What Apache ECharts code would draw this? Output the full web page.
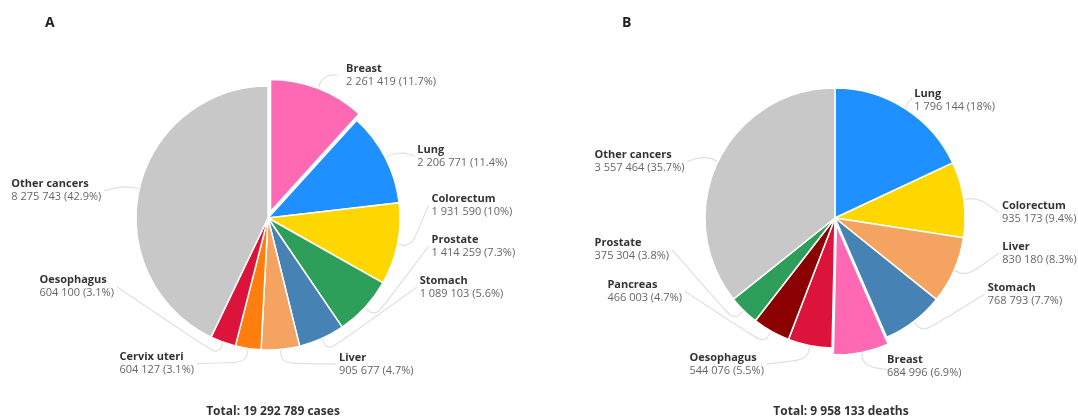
<!DOCTYPE html>
<html>
<head>
<meta charset="utf-8">
<script src="https://cdn.jsdelivr.net/npm/echarts@6/dist/echarts.min.js"></script>
<style>
  html, body { margin: 0; padding: 0; background: #fff; }
  #chart { width: 1078px; height: 418px; }
</style>
</head>
<body>
<div id="chart"></div>
<script>
// Panel A: new cases
const casesNames = ['Breast', 'Lung', 'Colorectum', 'Prostate', 'Stomach', 'Liver', 'Cervix uteri', 'Oesophagus', 'Other cancers'];
const casesValues = [2261419, 2206771, 1931590, 1414259, 1089103, 905677, 604127, 604100, 8275743];
const casesPct = ['11.7%', '11.4%', '10%', '7.3%', '5.6%', '4.7%', '3.1%', '3.1%', '42.9%'];
const casesColors = ['#ff69b4', '#1e90ff', '#ffd700', '#2e9e5b', '#4682b4', '#f4a460', '#ff7f0e', '#dc143c', '#c8c8c8'];
const casesTotal = 'Total: 19 292 789 cases';

// Panel B: deaths
const deathsNames = ['Lung', 'Colorectum', 'Liver', 'Stomach', 'Breast', 'Oesophagus', 'Pancreas', 'Prostate', 'Other cancers'];
const deathsValues = [1796144, 935173, 830180, 768793, 684996, 544076, 466003, 375304, 3557464];
const deathsPct = ['18%', '9.4%', '8.3%', '7.7%', '6.9%', '5.5%', '4.7%', '3.8%', '35.7%'];
const deathsColors = ['#1e90ff', '#ffd700', '#f4a460', '#4682b4', '#ff69b4', '#dc143c', '#8b0000', '#2e9e5b', '#c8c8c8'];
const deathsTotal = 'Total: 9 958 133 deaths';

// label placement (angle in degrees clockwise from 12 o'clock, distance from centre)
const casesLabelPos = [[26, 152], [67, 159], [85.5, 161], [100, 163], [115, 164], [155, 161], [206, 162], [245.5, 166], [279.5, 166]];
const deathsLabelPos = [[33, 140], [88, 164], [102, 168], [117, 168], [155, 163], [205, 161], [244, 167], [259, 166], [291, 158]];

const FONT = '"Open Sans", "Noto Sans", sans-serif';
const pies = [
  { center: [268, 218], radius: 132 },
  { center: [835, 218], radius: 130 }
];

function fmt(n) {
  return String(n).replace(/\B(?=(\d{3})+(?!\d))/g, ' ');
}

function buildData(names, values, pct, colors) {
  return names.map((n, i) => ({
    name: n,
    value: values[i],
    pct: pct[i],
    selected: n === 'Breast',
    itemStyle: { color: colors[i] }
  }));
}

function makeLayout(idx, posList) {
  const c = pies[idx].center;
  return (params) => {
    const pos = posList[params.dataIndex];
    const a = pos[0] * Math.PI / 180;
    const ax = c[0] + pos[1] * Math.sin(a);
    const ay = c[1] - pos[1] * Math.cos(a);
    const right = Math.sin(a) >= 0;
    const out = {
      x: right ? ax + 3 : ax - 3,
      y: ay,
      align: right ? 'left' : 'right',
      verticalAlign: 'middle'
    };
    const pts = params.labelLinePoints;
    if (pts && pts.length) {
      const p0 = pts[0];
      const dx = p0[0] - c[0], dy = p0[1] - c[1];
      const d = Math.sqrt(dx * dx + dy * dy) || 1;
      const p1 = [p0[0] + dx / d * 14, p0[1] + dy / d * 14];
      out.labelLinePoints = [p0, p1, [ax, ay]];
    }
    return out;
  };
}

function pieSeries(data, idx, posList) {
  return {
    type: 'pie',
    center: pies[idx].center,
    radius: pies[idx].radius,
    startAngle: 90,
    clockwise: true,
    selectedMode: 'single',
    selectedOffset: 7,
    data: data,
    itemStyle: { borderColor: '#fff', borderWidth: 1.5 },
    label: {
      show: true,
      position: 'outside',
      overflow: 'none',
      edgeDistance: 0,
      fontFamily: FONT,
      formatter: (p) => `{n|${p.name}}\n{v|${fmt(p.value)} (${p.data.pct})}`,
      rich: {
        n: { fontFamily: FONT, fontSize: 11, fontWeight: 'bold', color: '#333', align: 'left', lineHeight: 13 },
        v: { fontFamily: FONT, fontSize: 11, color: '#666', align: 'left', lineHeight: 13 }
      }
    },
    labelLine: {
      show: true,
      length: 14,
      length2: 18,
      smooth: 0.4,
      lineStyle: { color: '#e0e0e0', width: 1.2 }
    },
    labelLayout: makeLayout(idx, posList),
    emphasis: { disabled: true }
  };
}

const chart = echarts.init(document.getElementById('chart'), null, { renderer: 'canvas' });

chart.setOption({
  backgroundColor: '#fff',
  animation: false,
  title: [
    { text: 'A', left: 40, top: 11, textStyle: { fontFamily: FONT, fontSize: 14, fontWeight: 'bold', color: '#222' } },
    { text: 'B', left: 617, top: 11, textStyle: { fontFamily: FONT, fontSize: 14, fontWeight: 'bold', color: '#222' } },
    { text: casesTotal, left: 268, top: 401, textAlign: 'center', textStyle: { fontFamily: FONT, fontSize: 12, fontWeight: 'bold', color: '#333' } },
    { text: deathsTotal, left: 836, top: 401, textAlign: 'center', textStyle: { fontFamily: FONT, fontSize: 12, fontWeight: 'bold', color: '#333' } }
  ],
  series: [
    pieSeries(buildData(casesNames, casesValues, casesPct, casesColors), 0, casesLabelPos),
    pieSeries(buildData(deathsNames, deathsValues, deathsPct, deathsColors), 1, deathsLabelPos)
  ]
});
</script>
</body>
</html>
